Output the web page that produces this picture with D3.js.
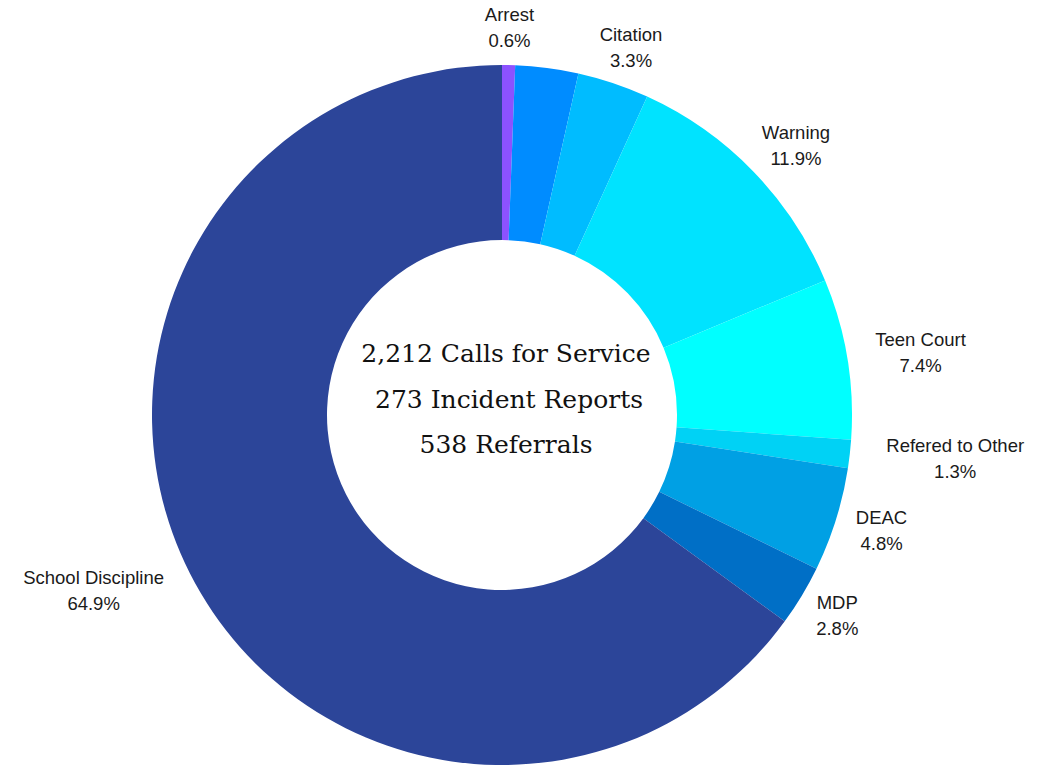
<!DOCTYPE html>
<html>
<head>
<meta charset="utf-8">
<title>Referrals donut</title>
<script src="https://cdn.jsdelivr.net/npm/d3@7/dist/d3.min.js"></script>
<style>
  body { margin: 0; background: #fff; }
  .lbl { font-family: "Liberation Sans", Arial, sans-serif; font-size: 18.5px; fill: #1a1a1a; }
  .mid { font-family: "DejaVu Serif", "Liberation Serif", serif; font-size: 25px; fill: #111; }
</style>
</head>
<body>
<script>
// slices, clockwise from 12 o'clock
var categories = ["Arrest", "", "Citation", "Warning", "Teen Court", "Refered to Other", "DEAC", "MDP", "School Discipline"];
var shares = [0.6, 2.9, 3.3, 11.9, 7.4, 1.3, 4.8, 2.8, 64.9];
var colors = ["#8c52ff", "#008cff", "#00bcff", "#00e3ff", "#00ffff", "#00d2f5", "#00a0e4", "#006fc6", "#2c4599"];
var centerLines = ["2,212 Calls for Service", "273 Incident Reports", "538 Referrals"];

var width = 1056, height = 769,
    cx = 502, cy = 415,
    outerR = 350, innerR = 175;

var svg = d3.select("body").append("svg")
    .attr("width", width)
    .attr("height", height);

var g = svg.append("g").attr("transform", "translate(" + cx + "," + cy + ")");

var pie = d3.pie().sort(null).value(function(d) { return d; });
var arcs = pie(shares);
var arc = d3.arc().innerRadius(innerR).outerRadius(outerR);

g.selectAll("path.slice")
    .data(arcs)
  .enter().append("path")
    .attr("class", "slice")
    .attr("d", arc)
    .attr("fill", function(d, i) { return colors[i]; });

// outside labels: anchor on the slice's middle angle, pushed out by the box size
var labelR = 363, halfH = 25;
arcs.forEach(function(d, i) {
    if (!categories[i]) return;
    var a = (d.startAngle + d.endAngle) / 2,
        s = Math.sin(a), c = Math.cos(a);
    var t = g.append("text").attr("class", "lbl").attr("text-anchor", "middle");
    var l1 = t.append("tspan").attr("x", 0).attr("y", -6.5).text(categories[i]);
    var l2 = t.append("tspan").attr("x", 0).attr("y", 19.5).text(shares[i].toFixed(1) + "%");
    var hw = Math.max(l1.node().getComputedTextLength(), l2.node().getComputedTextLength()) / 2;
    var x = s * labelR + s * hw * 1.35,
        y = -c * labelR - c * halfH;
    t.attr("transform", "translate(" + x + "," + y + ")");
});

// center text
var ct = g.append("text").attr("class", "mid").attr("text-anchor", "middle");
centerLines.forEach(function(line, i) {
    ct.append("tspan")
      .attr("x", i == 1 ? 7 : 4)
      .attr("y", -53 + i * 45.5)
      .text(line);
});
</script>
</body>
</html>
